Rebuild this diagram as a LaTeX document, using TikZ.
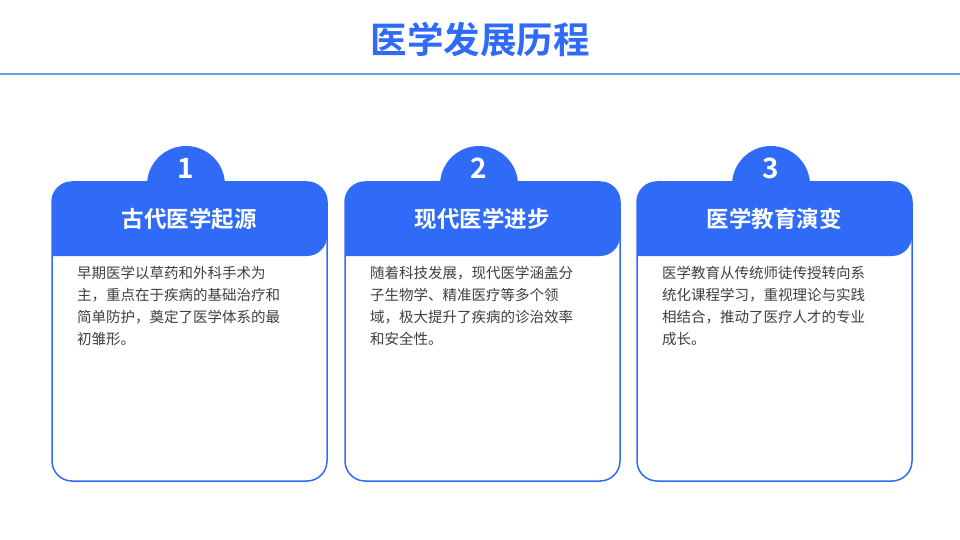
\documentclass[tikz,border=0pt]{standalone}
\usepackage{fontspec}
\newfontfamily\cjk{Noto Sans CJK SC}
\newfontfamily\cjkb{Noto Sans CJK SC Bold}
\definecolor{mblue}{HTML}{2F6BF7}
\definecolor{lblue}{HTML}{6E9BF7}
\definecolor{tgray}{HTML}{404040}
\tikzset{x=1pt,y=-1pt,
  body/.style={font=\cjk\fontsize{14.5}{22}\selectfont,text=tgray,anchor=north west,align=left,inner sep=0},
  head/.style={font=\cjkb\fontsize{22.5}{24}\selectfont,text=white},
  num/.style={font=\cjkb\fontsize{28}{30}\selectfont,text=white}}
\newcommand\card[5]{%
  \fill[mblue] (#1+134,185) circle (39);
  \fill[white,rounded corners=20] (#1,182) rectangle (#1+275,481);
  \fill[mblue,rounded corners=20] (#1,256) -- (#1,182) -- (#1+275,182) -- (#1+275,256) [sharp corners]-- cycle;
  \draw[mblue,line width=1.5,rounded corners=20] (#1,182) rectangle (#1+275,481);
  \node[num] (n#2) at (#1+134,168) {#2};
  \node[head] (h#2) at (#1+137,219) {#3};
  \node[body] (b#2) at (#1+25,266) {#4};
}
\begin{document}
\begin{tikzpicture}
\useasboundingbox (0,0) rectangle (960,540);
\node[font=\cjkb\fontsize{36.5}{38}\selectfont,text=mblue] (title) at (480,40) {医学发展历程};
\draw[lblue,line width=1.2] (0,74) -- (960,74);
\card{52}{1}{古代医学起源}{早期医学以草药和外科手术为\\主，重点在于疾病的基础治疗和\\简单防护，奠定了医学体系的最\\初雏形。}{}
\card{345}{2}{现代医学进步}{随着科技发展，现代医学涵盖分\\子生物学、精准医疗等多个领\\域，极大提升了疾病的诊治效率\\和安全性。}{}
\card{637}{3}{医学教育演变}{医学教育从传统师徒传授转向系\\统化课程学习，重视理论与实践\\相结合，推动了医疗人才的专业\\成长。}{}
\end{tikzpicture}
\end{document}
